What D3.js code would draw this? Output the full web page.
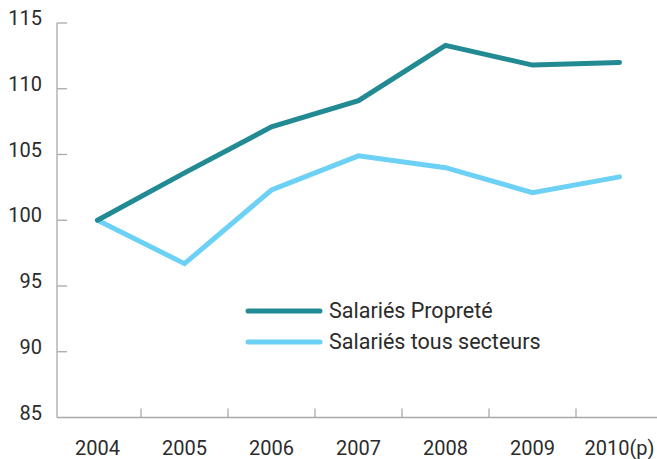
<!DOCTYPE html>
<html>
<head>
<meta charset="utf-8">
<script src="https://cdn.jsdelivr.net/npm/d3@7"></script>
<style>
  body { margin: 0; background: #fff; }
  svg text { font-family: Roboto, "DejaVu Sans", sans-serif; fill: #2b2b2b; }
</style>
</head>
<body>
<svg id="chart" width="657" height="459"></svg>
<script>
// data
var years = ['2004', '2005', '2006', '2007', '2008', '2009', '2010(p)'];
var proprete = [100, 103.6, 107.1, 109.1, 113.3, 111.8, 112.0];
var tousSecteurs = [100, 96.7, 102.3, 104.9, 104.0, 102.1, 103.3];
var yTicks = [85, 90, 95, 100, 105, 110, 115];
var seriesNames = ['Salariés Propreté', 'Salariés tous secteurs'];
var seriesColors = ['#218a92', '#6dd0f5'];

var svg = d3.select('#chart');
var axisColor = '#a9a9a9';

var x = d3.scaleBand().domain(years).range([54, 663]);
var y = d3.scaleLinear().domain([85, 115]).range([417.5, 23]);

// y axis
var yAxis = svg.append('g').attr('transform', 'translate(57,0)');
yAxis.append('line')
  .attr('x1', 0).attr('x2', 0)
  .attr('y1', y(115)).attr('y2', y(85))
  .attr('stroke', axisColor).attr('stroke-width', 1.3);
yAxis.selectAll('.tick')
  .data(yTicks.filter(function(d) { return d > 85; }))
  .enter().append('line')
  .attr('x1', 0).attr('x2', 10)
  .attr('y1', function(d) { return y(d); })
  .attr('y2', function(d) { return y(d); })
  .attr('stroke', axisColor).attr('stroke-width', 1.3);
yAxis.selectAll('text')
  .data(yTicks)
  .enter().append('text')
  .attr('x', -15)
  .attr('y', function(d) { return y(d); })
  .attr('dy', '0.1em')
  .attr('text-anchor', 'end')
  .attr('font-size', 20)
  .text(function(d) { return d; });

// x axis
var xAxis = svg.append('g').attr('transform', 'translate(0,' + y(85) + ')');
xAxis.append('line')
  .attr('x1', 57).attr('x2', 657)
  .attr('y1', 0).attr('y2', 0)
  .attr('stroke', axisColor).attr('stroke-width', 1.3);
xAxis.selectAll('.tick')
  .data(years.slice(1))
  .enter().append('line')
  .attr('x1', function(d) { return x(d); })
  .attr('x2', function(d) { return x(d); })
  .attr('y1', 0).attr('y2', -9)
  .attr('stroke', axisColor).attr('stroke-width', 1.3);
xAxis.selectAll('text')
  .data(years)
  .enter().append('text')
  .attr('x', function(d) { return x(d) + x.bandwidth() / 2; })
  .attr('y', 37.5)
  .attr('text-anchor', 'middle')
  .attr('font-size', 20)
  .text(function(d) { return d; });

// lines
var line = d3.line()
  .x(function(d, i) { return x(years[i]) + x.bandwidth() / 2; })
  .y(function(d) { return y(d); });

[tousSecteurs, proprete].forEach(function(s, k) {
  svg.append('path')
    .datum(s)
    .attr('d', line)
    .attr('fill', 'none')
    .attr('stroke', seriesColors[1 - k])
    .attr('stroke-width', 5)
    .attr('stroke-linejoin', 'miter')
    .attr('stroke-linecap', 'round');
});

// legend
var legend = svg.append('g').attr('transform', 'translate(248,311)');
seriesNames.forEach(function(name, i) {
  var g = legend.append('g').attr('transform', 'translate(0,' + (i * 31) + ')');
  g.append('line')
    .attr('x1', 0).attr('x2', 72)
    .attr('stroke', seriesColors[i])
    .attr('stroke-width', 5)
    .attr('stroke-linecap', 'round');
  g.append('text')
    .attr('x', 81)
    .attr('y', 0)
    .attr('dy', '0.33em')
    .attr('font-size', 21.5)
    .text(name);
});
</script>
</body>
</html>
